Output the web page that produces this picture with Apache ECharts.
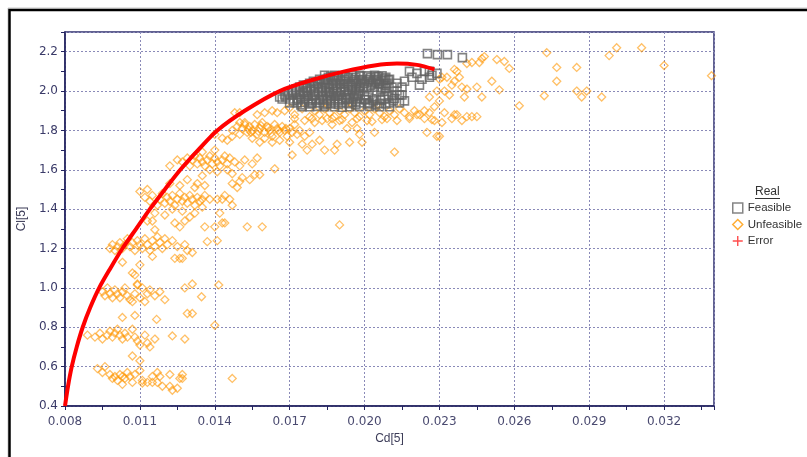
<!DOCTYPE html>
<html><head><meta charset="utf-8">
<script src="https://cdn.jsdelivr.net/npm/echarts@6/dist/echarts.min.js"></script>
<style>html,body{margin:0;padding:0;background:#fff}#c{width:807px;height:457px}</style>
</head><body><div id="c"></div>
<script>
// ---- data ----
const xAxisMin = 0.008, xAxisMax = 0.034, xAxisStep = 0.003;
const yAxisMin = 0.4, yAxisMax = 2.3, yAxisStep = 0.2;
const legendTitle = 'Real';
const legendNames = ['Feasible', 'Unfeasible', 'Error'];

const feasible = [
  [0.0184,2.08],[0.0188,2.08],[0.0191,2.078],[0.0195,2.08],[0.0198,2.08],[0.0201,2.077],[0.0204,2.08],[0.0207,2.078],
  [0.01855,2.07],[0.01895,2.07],[0.01935,2.068],[0.01965,2.07],[0.02025,2.07],[0.02055,2.072],[0.02085,2.07],
  [0.0182,2.06],[0.0185,2.06],[0.0189,2.062],[0.0192,2.06],[0.0196,2.06],[0.0199,2.058],[0.0202,2.06],[0.0205,2.06],[0.0208,2.062],[0.0210,2.06],
  [0.01795,2.05],[0.01835,2.05],[0.01875,2.052],[0.01915,2.05],[0.01955,2.05],[0.01985,2.048],[0.02015,2.05],[0.02045,2.05],[0.02075,2.052],
  [0.0178,2.04],[0.0181,2.04],[0.0184,2.042],[0.0187,2.04],[0.0190,2.04],[0.0193,2.038],[0.0197,2.04],[0.0200,2.04],[0.0203,2.042],[0.0206,2.04],[0.0209,2.04],
  [0.01755,2.03],[0.01795,2.03],[0.01855,2.032],[0.01885,2.03],[0.01945,2.03],[0.01985,2.028],[0.02025,2.03],[0.02085,2.03],
  [0.0174,2.02],[0.0177,2.02],[0.0180,2.022],[0.0183,2.02],[0.0186,2.02],[0.0189,2.018],[0.0192,2.02],[0.0195,2.02],[0.0198,2.022],[0.0201,2.02],[0.0204,2.02],[0.0207,2.018],[0.0211,2.02],
  [0.01725,2.01],[0.01785,2.01],[0.01815,2.012],[0.01875,2.01],[0.01905,2.01],[0.01935,2.008],[0.01965,2.01],[0.02065,2.01],
  [0.0171,2.00],[0.0174,2.00],[0.0177,2.002],[0.0180,2.00],[0.0183,2.00],[0.0186,1.998],[0.0189,2.00],[0.0192,2.00],[0.0195,2.002],[0.0198,2.00],[0.0205,2.00],[0.0209,1.998],[0.0213,2.00],
  [0.01695,1.99],[0.01725,1.99],[0.01755,1.992],[0.01815,1.99],[0.01845,1.99],[0.01875,1.988],[0.01935,1.99],[0.01975,1.99],
  [0.0168,1.98],[0.0171,1.98],[0.0174,1.982],[0.0177,1.98],[0.0180,1.98],[0.0183,1.978],[0.0186,1.98],[0.0190,1.98],[0.0193,1.982],[0.0196,1.98],[0.0200,1.98],[0.0211,1.978],[0.0215,1.98],
  [0.01685,1.97],[0.01745,1.97],[0.01775,1.972],[0.01835,1.97],[0.01865,1.97],[0.01925,1.968],[0.01955,1.97],[0.02015,1.97],[0.02095,1.97],
  [0.0167,1.96],[0.0170,1.96],[0.0173,1.962],[0.0176,1.96],[0.0179,1.96],[0.0182,1.958],[0.0185,1.96],[0.0188,1.96],[0.0191,1.962],[0.0194,1.96],[0.0197,1.96],[0.0200,1.958],[0.0204,1.96],[0.0208,1.96],[0.0212,1.962],
  [0.01715,1.95],[0.01775,1.95],[0.01805,1.952],[0.01865,1.95],[0.01895,1.95],[0.01965,1.948],[0.02035,1.95],[0.02115,1.95],
  [0.0170,1.94],[0.0173,1.94],[0.0176,1.942],[0.0179,1.94],[0.0182,1.94],[0.0185,1.938],[0.0188,1.94],[0.0191,1.94],[0.0195,1.942],[0.0198,1.94],[0.0202,1.94],[0.0206,1.938],[0.0210,1.94],[0.0214,1.94],
  [0.01745,1.93],[0.01835,1.93],[0.01895,1.932],[0.01965,1.93],[0.02045,1.93],
  [0.0175,1.92],[0.0178,1.92],[0.0181,1.922],[0.0184,1.92],[0.0188,1.92],[0.0191,1.918],[0.0194,1.92],[0.0198,1.92],[0.0202,1.922],[0.0206,1.92],[0.0210,1.92],
  [0.01865,2.075],[0.01925,2.074],[0.01985,2.076],[0.02045,2.075],[0.01845,2.055],[0.01905,2.054],[0.01975,2.056],[0.02035,2.055],[0.02095,2.056],
  [0.01815,2.035],[0.01905,2.034],[0.01965,2.036],[0.02055,2.035],[0.01765,2.015],[0.01845,2.014],[0.01995,2.016],[0.02085,2.015],
  [0.01755,1.995],[0.01855,1.994],[0.01905,1.996],[0.01795,1.975],[0.01885,1.974],[0.01975,1.976],[0.01735,1.955],[0.01835,1.954],
  [0.01925,1.956],[0.02005,1.955],[0.02065,1.954],[0.01785,1.935],[0.01865,1.934],[0.01935,1.936],[0.02015,1.935],[0.02085,1.934],
  [0.0218,2.10],[0.0221,2.09],[0.0224,2.10],[0.0227,2.08],[0.0219,2.07],[0.0223,2.06],[0.0226,2.07],[0.0222,2.03],[0.0216,2.05],[0.0213,2.04],
  [0.0215,2.02],[0.0229,2.09],[0.0226,2.10],[0.0166,1.97],[0.0216,1.95],[0.0214,1.98],
  [0.02252,2.19],[0.02292,2.185],[0.02332,2.185],[0.02392,2.17]
];

const unfeasible = [
  // lowest band
  [0.0093,0.59],[0.0095,0.57],[0.0096,0.60],[0.0098,0.56],[0.0099,0.54],[0.0100,0.55],[0.0101,0.53],[0.0102,0.56],[0.0103,0.55],[0.0104,0.54],
  [0.0105,0.57],[0.0106,0.55],[0.0107,0.52],[0.0108,0.56],[0.0110,0.58],[0.0111,0.53],[0.0113,0.52],[0.0115,0.55],[0.0117,0.57],[0.0119,0.50],
  [0.0122,0.50],[0.0123,0.48],[0.0125,0.49],[0.0127,0.56],[0.0122,0.56],[0.0147,0.54],[0.0110,0.63],[0.0103,0.51],[0.0107,0.654],[0.0111,0.517],
  [0.0115,0.52],[0.0117,0.52],[0.0118,0.55],[0.0126,0.54],[0.0127,0.54],
  // 0.75 band
  [0.0089,0.76],[0.0092,0.75],[0.0094,0.77],[0.0095,0.74],[0.0097,0.76],[0.0098,0.78],[0.0099,0.75],[0.0100,0.77],[0.0101,0.79],[0.0102,0.76],
  [0.0103,0.74],[0.0104,0.77],[0.0105,0.75],[0.0107,0.79],[0.0108,0.75],[0.0109,0.73],[0.0110,0.71],[0.0112,0.76],[0.0113,0.72],[0.0114,0.70],
  [0.0116,0.74],[0.0123,0.756],[0.0128,0.74],[0.0140,0.81],
  // 1.0 band
  [0.0095,0.98],[0.0096,0.96],[0.0097,1.00],[0.0098,0.97],[0.0099,0.95],[0.0100,0.99],[0.0101,0.97],[0.0102,0.95],[0.0103,0.98],[0.0104,1.00],
  [0.0105,0.96],[0.0106,0.94],[0.0107,0.93],[0.0108,0.97],[0.0109,1.02],[0.0110,0.95],[0.0111,1.00],[0.0112,0.93],[0.0113,0.97],[0.0114,0.99],
  [0.0116,0.96],[0.0118,0.98],[0.0120,0.94],[0.0128,1.00],[0.0131,1.02],[0.01347,0.955],[0.01416,1.015],[0.0129,0.87],[0.0131,0.87],[0.01167,0.84],
  [0.0103,0.85],[0.0108,0.86],[0.0107,1.076],[0.0109,1.015],
  // 1.2 band
  [0.0098,1.20],[0.0099,1.22],[0.0100,1.19],[0.0101,1.21],[0.0102,1.23],[0.0103,1.20],[0.0104,1.22],[0.0105,1.25],[0.0106,1.21],[0.0107,1.23],
  [0.0108,1.19],[0.0109,1.24],[0.0110,1.22],[0.0111,1.20],[0.0112,1.25],[0.0113,1.22],[0.0114,1.19],[0.0115,1.24],[0.0116,1.21],[0.0117,1.26],
  [0.0118,1.23],[0.0119,1.20],[0.0120,1.25],[0.0121,1.22],[0.0123,1.24],[0.0125,1.21],[0.0127,1.15],[0.0129,1.19],[0.0131,1.18],[0.0128,1.22],
  [0.0137,1.235],[0.0141,1.24],[0.0126,1.15],[0.0113,1.34],[0.0115,1.34],[0.0116,1.295],[0.0108,1.066],[0.0110,1.117],[0.0103,1.13],[0.0115,1.16],[0.0124,1.15],
  // 1.45 band
  [0.0112,1.46],[0.0114,1.44],[0.0115,1.47],[0.0117,1.42],[0.0118,1.45],[0.0119,1.48],[0.0120,1.43],[0.0121,1.46],[0.0122,1.44],[0.0123,1.47],
  [0.0124,1.42],[0.0125,1.45],[0.0126,1.48],[0.0127,1.44],[0.0128,1.46],[0.0129,1.43],[0.0130,1.47],[0.0131,1.45],[0.0132,1.42],[0.0133,1.46],
  [0.0134,1.44],[0.0136,1.47],[0.0138,1.45],[0.0110,1.49],[0.0113,1.50],[0.0116,1.38],[0.0120,1.37],[0.0123,1.40],[0.0127,1.39],[0.0130,1.36],
  [0.0124,1.33],[0.0126,1.31],[0.0128,1.34],[0.0132,1.38],[0.0135,1.41],[0.0135,1.45],[0.0143,1.33],[0.0144,1.33],[0.0153,1.31],[0.0159,1.31],
  [0.0136,1.31],[0.0140,1.31],[0.0142,1.38],[0.0190,1.32],[0.0141,1.45],[0.0144,1.47],[0.0147,1.42],[0.0143,1.45],
  [0.0122,1.53],[0.0126,1.52],[0.0129,1.55],[0.0133,1.53],[0.0136,1.52],[0.0132,1.51],[0.0122,1.62],[0.0125,1.65],
  // 1.65 band
  [0.0127,1.64],[0.0129,1.66],[0.0130,1.62],[0.0131,1.65],[0.0132,1.67],[0.0133,1.63],[0.0134,1.66],[0.0135,1.64],[0.0136,1.62],[0.0137,1.65],
  [0.0138,1.67],[0.0139,1.63],[0.0140,1.66],[0.0141,1.64],[0.0142,1.62],[0.0143,1.65],[0.0144,1.67],[0.0145,1.63],[0.0146,1.66],[0.0148,1.64],
  [0.0150,1.62],[0.0152,1.65],[0.0155,1.63],[0.0157,1.66],[0.0138,1.60],[0.0141,1.59],[0.0145,1.60],[0.0135,1.69],[0.0140,1.70],[0.0147,1.58],
  [0.0151,1.56],[0.0147,1.53],[0.0149,1.51],[0.0154,1.55],[0.0150,1.54],[0.0156,1.575],[0.0158,1.575],[0.0164,1.605],[0.0171,1.675],[0.0212,1.69],
  [0.0147,1.77],[0.0150,1.84],[0.0152,1.83],[0.0135,1.57],[0.0146,1.45],[0.0150,1.89],
  // 1.8 band
  [0.0147,1.80],[0.0149,1.82],[0.0150,1.78],[0.0151,1.81],[0.0152,1.84],[0.0153,1.79],[0.0154,1.82],[0.0155,1.80],[0.0156,1.83],[0.0157,1.78],
  [0.0158,1.81],[0.0159,1.84],[0.0160,1.79],[0.0161,1.82],[0.0162,1.80],[0.0163,1.77],[0.0164,1.83],[0.0165,1.81],[0.0166,1.79],[0.0167,1.82],
  [0.0168,1.80],[0.0169,1.77],[0.0170,1.81],[0.0171,1.79],[0.0172,1.83],[0.0173,1.78],[0.0174,1.80],[0.0176,1.77],[0.0178,1.79],[0.0160,1.76],
  [0.0163,1.74],[0.0166,1.75],[0.0155,1.76],[0.0158,1.74],[0.0170,1.74],[0.0175,1.73],[0.0179,1.73],[0.0182,1.75],[0.0177,1.70],[0.0184,1.70],
  [0.0163,1.90],[0.0165,1.89],[0.0170,1.915],[0.0160,1.89],[0.0157,1.88],[0.0148,1.89],[0.0140,1.78],[0.0143,1.76],[0.0145,1.75],[0.0187,1.83],
  [0.0193,1.81],[0.0197,1.81],[0.0198,1.78],[0.0199,1.74],[0.0189,1.73],[0.0194,1.74],[0.0188,1.70],[0.0203,1.845],[0.0207,1.855],[0.0204,1.79],
  [0.0180,1.84],[0.0185,1.86],[0.0190,1.85],[0.0195,1.84],
  [0.01535,1.805],[0.01575,1.795],[0.01615,1.815],[0.01655,1.80],[0.01625,1.785],[0.01585,1.825],[0.01545,1.79],[0.01685,1.81],
  // band under the feasible cloud
  [0.0168,1.90],[0.0172,1.88],[0.0175,1.91],[0.0178,1.87],[0.0180,1.90],[0.0182,1.88],[0.0184,1.91],[0.0186,1.89],[0.0188,1.87],[0.0190,1.90],
  [0.0192,1.88],[0.0194,1.91],[0.0196,1.89],[0.0198,1.87],[0.0200,1.90],[0.0202,1.88],[0.0204,1.91],[0.0206,1.89],[0.0208,1.87],[0.0210,1.90],
  [0.0212,1.88],[0.0214,1.91],[0.0216,1.89],[0.0218,1.87],[0.0220,1.90],[0.0222,1.88],[0.0224,1.86],[0.0226,1.89],[0.0228,1.85],[0.0185,1.93],
  [0.0195,1.93],[0.0205,1.93],[0.0172,1.86],[0.0176,1.85],[0.0179,1.86],[0.0183,1.85],[0.0187,1.86],[0.0191,1.855],[0.0197,1.86],[0.0201,1.85],
  [0.0209,1.86],[0.0213,1.85],
  // right part
  [0.0218,1.86],[0.0221,1.88],[0.0224,1.90],[0.0227,1.855],[0.0231,1.84],[0.0229,1.77],[0.0235,1.86],[0.0237,1.88],[0.0239,1.85],[0.0241,1.87],
  [0.0225,1.79],[0.0230,1.77],[0.0230,1.95],[0.0232,2.00],[0.0234,1.98],[0.0236,2.05],[0.0238,2.07],[0.0233,2.07],[0.0231,2.07],[0.0230,2.06],
  [0.0235,2.03],[0.0237,2.10],[0.0236,2.11],[0.0241,2.14],[0.0243,2.145],[0.0246,2.145],[0.0247,2.165],[0.0248,2.175],[0.0239,2.02],[0.0241,2.01],
  [0.0245,2.02],[0.0240,1.97],[0.0247,1.97],[0.0251,2.05],[0.0254,2.006],[0.0253,2.16],[0.0256,2.15],[0.0258,2.115],[0.0262,1.925],[0.0272,1.976],
  [0.0273,2.195],[0.0277,2.12],[0.0277,2.05],[0.0285,2.12],[0.0285,2.00],[0.0287,1.97],[0.0289,2.00],[0.0295,1.97],[0.0298,2.18],[0.0301,2.22],
  [0.0311,2.22],[0.0320,2.13],[0.0339,2.078],[0.0232,1.89],[0.0236,1.88],[0.0243,1.87],[0.0245,1.87],[0.0228,1.92],[0.0226,1.97],[0.0229,2.00]
];

const fitCurve = [
  [0.0080,0.40],[0.00812,0.50],[0.00827,0.60],[0.00847,0.70],[0.00871,0.80],[0.00901,0.90],[0.00937,1.00],[0.00982,1.10],
  [0.0103,1.20],[0.01085,1.30],[0.0114,1.40],[0.0120,1.50],[0.01262,1.60],[0.01333,1.70],[0.0141,1.80],[0.0152,1.90],
  [0.0166,2.00],[0.0180,2.06],[0.0192,2.10],[0.0204,2.13],[0.0213,2.14],[0.0221,2.133],[0.0228,2.11]
];
const errorPoints = [];

// ---- chart ----
const navy = '#23235f';
const chart = echarts.init(document.getElementById('c'), null, {renderer: 'canvas'});
function onGrid(v, min, step) { const k = (v - min) / step; return Math.abs(k - Math.round(k)) < 1e-6; }

chart.setOption({
  animation: false,
  backgroundColor: '#ffffff',
  grid: {left: 65, right: 93, top: 32, bottom: 51, show: true, borderColor: '#2e2e6e', borderWidth: 1.5, backgroundColor: '#ffffff'},
  xAxis: {
    type: 'value', min: xAxisMin, max: xAxisMax, interval: xAxisStep,
    name: 'Cd[5]', nameLocation: 'middle', nameGap: 27,
    nameTextStyle: {fontFamily: 'Liberation Sans', fontSize: 12, color: '#3c3c58'},
    axisLine: {show: true, onZero: false, lineStyle: {color: navy, width: 1.5}},
    axisTick: {show: true, length: 4, lineStyle: {color: navy}},
    minorTick: {show: true, splitNumber: 2, length: 4, lineStyle: {color: navy}},
    axisLabel: {fontFamily: 'DejaVu Sans', fontSize: 12, color: '#4a4a70', margin: 10,
      formatter: v => onGrid(v, xAxisMin, xAxisStep) ? v.toFixed(3) : ''},
    splitLine: {show: true, lineStyle: {color: '#8a8ab8', type: [2, 2], width: 1}}
  },
  yAxis: {
    type: 'value', min: yAxisMin, max: yAxisMax, interval: yAxisStep,
    name: 'Cl[5]', nameLocation: 'middle', nameGap: 26,
    nameTextStyle: {fontFamily: 'Liberation Sans', fontSize: 12, color: '#3c3c58'},
    axisLine: {show: true, onZero: false, lineStyle: {color: navy, width: 1.5}},
    axisTick: {show: true, length: 4, lineStyle: {color: navy}},
    minorTick: {show: true, splitNumber: 2, length: 4, lineStyle: {color: navy}},
    axisLabel: {fontFamily: 'DejaVu Sans', fontSize: 12, color: '#3a3a68', margin: 7,
      formatter: v => onGrid(v, yAxisMin, yAxisStep) ? v.toFixed(1) : ''},
    splitLine: {show: true, lineStyle: {color: '#8a8ab8', type: [2, 2], width: 1}}
  },
  legend: {
    orient: 'vertical', left: 732, top: 202, padding: 0, itemWidth: 10, itemHeight: 10, itemGap: 4.5,
    textStyle: {fontFamily: 'Liberation Sans', fontSize: 11.5, color: '#333', lineHeight: 11},
    selectedMode: false,
    data: [
      {name: legendNames[0], icon: 'rect', itemStyle: {color: 'rgba(255,255,255,0)', borderColor: '#666', borderWidth: 1.5}},
      {name: legendNames[1], icon: 'diamond', itemStyle: {color: 'rgba(255,255,255,0)', borderColor: '#ff9900', borderWidth: 1.5}},
      {name: legendNames[2], icon: 'path://M4.3,0H5.7V10H4.3Z M0,4.3H10V5.7H0Z', itemStyle: {color: '#ff2020', borderWidth: 0}}
    ]
  },
  graphic: [
    {type: 'rect', silent: true, z: -10, shape: {x: 8, y: 8, width: 900, height: 600}, style: {fill: 'none', stroke: '#c8c8c8', lineWidth: 1}},
    {type: 'rect', silent: true, z: -9, shape: {x: 9.5, y: 10, width: 900, height: 600}, style: {fill: 'none', stroke: '#000', lineWidth: 2.5}},
    {type: 'text', silent: true, left: 755, top: 186, style: {text: legendTitle, font: '12px "Liberation Sans"', fill: '#333'}},
    {type: 'line', silent: true, shape: {x1: 755, y1: 198.5, x2: 780, y2: 198.5}, style: {stroke: '#333', lineWidth: 1}}
  ],
  series: [
    {name: legendNames[1], type: 'scatter', data: unfeasible, symbol: 'diamond', symbolSize: 8, z: 2,
      itemStyle: {color: 'rgba(255,255,255,0)', borderColor: 'rgba(255,150,0,0.75)', borderWidth: 1.3},
      emphasis: {disabled: true}},
    {name: legendNames[0], type: 'scatter', data: feasible, symbol: 'rect', symbolSize: 8, z: 3,
      itemStyle: {color: 'rgba(255,255,255,0)', borderColor: '#636363', borderWidth: 1.6},
      emphasis: {disabled: true}},
    {name: 'Fit', type: 'line', data: fitCurve, smooth: 0.3, showSymbol: false, z: 5,
      lineStyle: {color: '#ff0000', width: 4}, emphasis: {disabled: true}},
    {name: legendNames[2], type: 'scatter', data: errorPoints, symbol: 'path://M4.3,0H5.7V10H4.3Z M0,4.3H10V5.7H0Z', symbolSize: 10,
      itemStyle: {color: '#ff2020'}}
  ]
});
</script></body></html>
